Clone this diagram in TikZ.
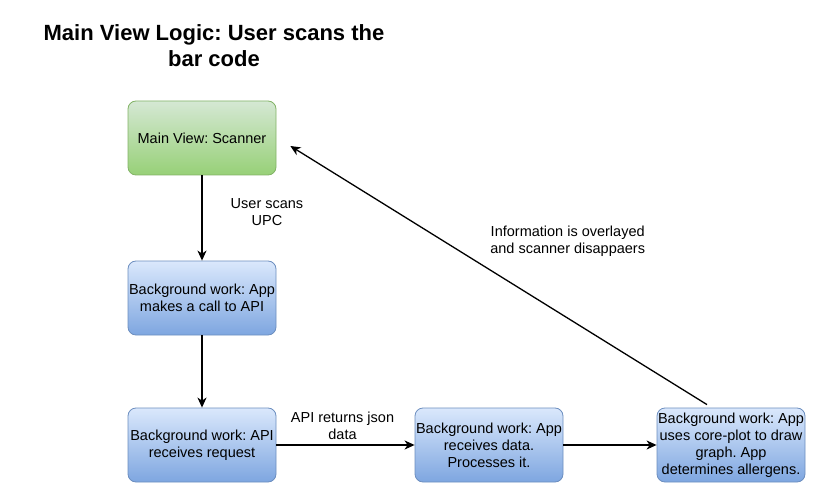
\documentclass[tikz,border=0pt]{standalone}
\usepackage{fontspec}
\setmainfont{Liberation Sans}
\usetikzlibrary{arrows.meta}
\definecolor{bluedraw}{HTML}{6C8EBF}
\definecolor{bluetop}{HTML}{DAE8FC}
\definecolor{bluebottom}{HTML}{7EA6E0}
\definecolor{greendraw}{HTML}{82B366}
\definecolor{greentop}{HTML}{D5E8D4}
\definecolor{greenbottom}{HTML}{97D077}
\frenchspacing

\begin{document}
\begin{tikzpicture}[
x=1pt,y=-1pt,
block/.style={
draw=bluedraw,
top color=bluetop,
bottom color=bluebottom,
rounded corners=8pt,
line width=0.8pt,
minimum width=148pt,
minimum height=74pt,
inner sep=0pt,
align=center,
font=\fontsize{14.5}{17}\selectfont},
greenblock/.style={
block,
draw=greendraw,
top color=greentop,
bottom color=greenbottom},
arrow/.style={
-{Stealth[length=10pt,width=9pt,inset=3pt]},
line width=1.3pt},
elabel/.style={
align=center,
inner sep=0pt,
font=\fontsize{14.5}{17}\selectfont}
]
\useasboundingbox (0,0) rectangle (833,500);

\draw (214,46)node[align=center,font=\bfseries\fontsize{22}{26}\selectfont](title){Main View Logic: User scans the\\bar code};

\draw (202,138)node[greenblock](scanner){Main View: Scanner};
\draw (202,298)node[block](apicall){Background work: App\\makes a call to API};
\draw (202,445)node[block](apirecv){Background work: API\\receives request};
\draw (489,445)node[block](appdata){Background work: App\\receives data.\\Processes it.};
\draw (731,445)node[block](coreplot){Background work: App\\uses core-plot to draw\\graph. App\\determines allergens.};

\draw[arrow] (scanner) -- (apicall) node[elabel,midway,xshift=65pt,yshift=6pt]{User scans\\UPC};
\draw[arrow] (apicall) -- (apirecv);
\draw[arrow] (apirecv) -- (appdata) node[elabel,midway,xshift=-3pt,yshift=19pt]{API returns json\\data};
\draw[arrow] (appdata) -- (coreplot);
\draw[arrow] ([xshift=-24pt,yshift=3pt]coreplot.north) -- ([xshift=14pt,yshift=-8pt]scanner.east) node[elabel,midway,xshift=69pt,yshift=34pt]{Information is overlayed\\and scanner disappaers};

\end{tikzpicture}
\end{document}
